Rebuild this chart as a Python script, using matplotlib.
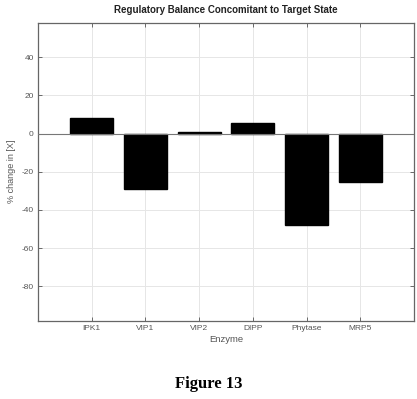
import matplotlib
matplotlib.use("Agg")
import matplotlib.pyplot as plt

enzymes = ['IPK1', 'VIP1', 'VIP2', 'DIPP', 'Phytase', 'MRP5']
change = [8.1, -29.0, 0.9, 5.4, -47.8, -25.4]
yticks = [-80, -60, -40, -20, 0, 20, 40]

plt.rcParams['font.family'] = ['Liberation Sans', 'DejaVu Sans']
plt.rcParams['axes.unicode_minus'] = False

fig = plt.figure(figsize=(4.17, 3.99), dpi=100)
ax = fig.add_axes([0.0911, 0.1962, 0.9017, 0.7468])

pos = list(range(1, len(enzymes) + 1))
ax.bar(pos, change, width=0.8, color='black', edgecolor='black', zorder=3)
ax.axhline(0, color='#777777', lw=0.8, zorder=4)

ax.set_xlim(0, 7)
ax.set_ylim(-98, 58)
ax.set_xticks(pos)
ax.set_xticklabels(enzymes)
ax.set_yticks(yticks)
ax.grid(True, color='#e6e6e6', lw=0.7, zorder=0)
ax.tick_params(direction='in', length=3, width=0.6, colors='#555555',
               labelsize=6, top=True, right=True, pad=3)
for s in ax.spines.values():
    s.set_color('#666666')
    s.set_linewidth(0.9)

ax.set_title('Regulatory Balance Concomitant to Target State',
             fontsize=7, fontweight='bold', color='#222222', pad=7)
ax.set_xlabel('Enzyme', fontsize=6.8, color='#555555', labelpad=2)
ax.set_ylabel('% change in [X]', fontsize=6.5, color='#555555', labelpad=4)

fig.text(0.5, 0.037, 'Figure 13', ha='center', va='center',
         fontsize=12, fontweight='bold', family=['Liberation Serif', 'DejaVu Serif'])

fig.savefig('out.png', dpi=100)
